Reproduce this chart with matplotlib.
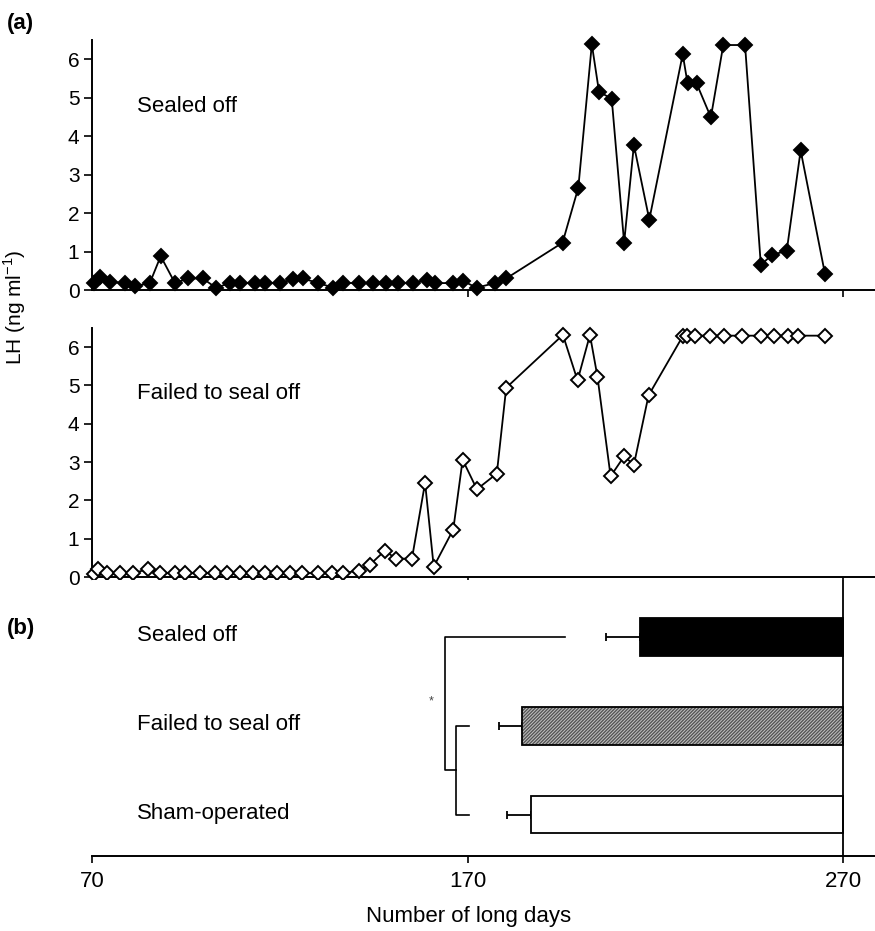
import matplotlib
matplotlib.use('Agg')
import matplotlib.pyplot as plt

plt.rcParams['font.family'] = ['Liberation Sans', 'DejaVu Sans']
plt.rcParams['mathtext.fontset'] = 'custom'
plt.rcParams['mathtext.rm'] = 'Liberation Sans'
plt.rcParams['axes.linewidth'] = 1.4

# (a) LH profiles
sealed_days = [70.6, 72.1, 74.8, 78.8, 81.5, 85.4, 88.3, 92.1, 95.6, 99.5,
               103.0, 106.8, 109.4, 113.4, 116.1, 120.1, 123.4, 126.1, 130.3, 134.3,
               136.9, 141.2, 144.8, 148.3, 151.5, 155.6, 159.1, 161.4, 166.2, 168.9,
               172.4, 177.3, 180.3, 195.3, 199.5, 203.1, 205.0, 208.4, 211.7, 214.3,
               218.4, 227.3, 228.6, 231.0, 234.8, 238.1, 243.9, 248.1, 251.0, 255.0,
               258.7, 265.2]
sealed_lh = [0.18, 0.34, 0.21, 0.18, 0.10, 0.18, 0.88, 0.18, 0.30, 0.30,
             0.06, 0.18, 0.18, 0.18, 0.18, 0.18, 0.28, 0.30, 0.18, 0.06,
             0.18, 0.18, 0.18, 0.18, 0.18, 0.18, 0.27, 0.18, 0.18, 0.23,
             0.06, 0.18, 0.30, 1.23, 2.66, 6.39, 5.16, 4.97, 1.23, 3.77,
             1.83, 6.13, 5.37, 5.37, 4.49, 6.37, 6.37, 0.65, 0.91, 1.02,
             3.63, 0.41]

failed_days = [70.6, 71.7, 73.9, 77.5, 81.0, 85.0, 88.1, 92.1, 94.8, 98.8,
               102.8, 105.9, 109.4, 113.0, 116.1, 119.2, 122.7, 125.8, 130.3, 133.8,
               136.9, 141.1, 144.0, 148.0, 150.9, 155.2, 158.7, 161.0, 166.2, 168.7,
               172.5, 177.8, 180.3, 195.4, 199.3, 202.6, 204.6, 208.1, 211.7, 214.3,
               218.2, 227.4, 228.4, 230.6, 234.6, 238.4, 243.0, 248.2, 251.7, 255.4,
               258.1, 265.2]
failed_lh = [0.08, 0.21, 0.10, 0.10, 0.10, 0.21, 0.10, 0.10, 0.10, 0.10,
             0.10, 0.10, 0.10, 0.10, 0.10, 0.10, 0.10, 0.10, 0.10, 0.10,
             0.10, 0.17, 0.32, 0.69, 0.48, 0.48, 2.46, 0.27, 1.24, 3.06,
             2.29, 2.70, 4.94, 6.32, 5.13, 6.32, 5.23, 2.63, 3.15, 2.93,
             4.74, 6.30, 6.30, 6.30, 6.30, 6.30, 6.30, 6.30, 6.30, 6.30,
             6.30, 6.30]

# (b) onset of LH rise (mean, SE) and end of observation
groups = ['Sealed off', 'Failed to seal off', 'Sham-operated']
onset_mean = [216, 184.5, 187]
onset_se = [9, 6, 6.5]
end_day = 270
bar_colors = ['black', '#c4c4c4', 'white']

fig = plt.figure(figsize=(8.75, 9.31), dpi=100)
ax1 = fig.add_axes([0.1051, 0.6885, 0.8949, 0.2685])
ax2 = fig.add_axes([0.1051, 0.3802, 0.8949, 0.2675])
ax3 = fig.add_axes([0.1051, 0.0809, 0.8949, 0.2960])

xmin, xmax = 70, 278.5

for ax, days, lh, face, label in [(ax1, sealed_days, sealed_lh, 'black', 'Sealed off'),
                                  (ax2, failed_days, failed_lh, 'white', 'Failed to seal off')]:
    ax.plot(days, lh, color='black', lw=1.3, marker='D', ms=6.8,
            mfc=face, mec='black', mew=1.4, clip_on=False, zorder=3)
    ax.set_xlim(xmin, xmax)
    ax.set_ylim(0, 6.5)
    ax.set_yticks(range(7))
    ax.set_xticks([170, 270])
    ax.set_xticklabels([])
    ax.spines['top'].set_visible(False)
    ax.spines['right'].set_visible(False)
    ax.tick_params(axis='y', direction='out', length=6, width=1.2, labelsize=15, pad=3)
    ax.tick_params(axis='x', direction='out', length=5, width=1.2)
    ax.text(82, 4.78, label, fontsize=16, va='center', ha='left')

ax2.tick_params(axis='x', length=10)

# (b) horizontal bars
pos = list(range(len(groups)))
for p, m, se, c in zip(pos, onset_mean, onset_se, bar_colors):
    if c == '#c4c4c4':
        ax3.barh(p, end_day - m, left=m, height=0.42, color=c, hatch='//////////',
                 edgecolor='#555555', linewidth=0, zorder=2)
        ax3.barh(p, end_day - m, left=m, height=0.42, fill=False,
                 edgecolor='black', linewidth=1.3, zorder=3)
    else:
        ax3.barh(p, end_day - m, left=m, height=0.42, color=c,
                 edgecolor='black', linewidth=1.3, zorder=2)
    ax3.errorbar([m], [p], xerr=[[se], [0]], fmt='none', ecolor='black',
                 elinewidth=1.3, capsize=3, capthick=1.3, zorder=1)
    ax3.text(82, p - 0.02, groups[p], fontsize=16, va='center', ha='left')

ax3.axvline(end_day, color='black', lw=1.3, zorder=4)

# significance brackets
j_outer, j_inner, arm_in, arm_out = 164.0, 166.9, 170.5, 196.0
mid = (pos[1] + pos[2]) / 2
ax3.plot([arm_out, j_outer, j_outer, j_inner], [pos[0], pos[0], mid, mid], color='black', lw=1.2)
ax3.plot([arm_in, j_inner, j_inner, arm_in], [pos[1], pos[1], pos[2], pos[2]], color='black', lw=1.2)
ax3.text(160.4, 0.72, '*', fontsize=9, ha='center', va='center', color='#444444')

ax3.set_xlim(xmin, xmax)
ax3.set_ylim(2.46, -0.64)
ax3.set_xticks([70, 170, 270])
ax3.set_yticks([])
for s in ['top', 'right', 'left']:
    ax3.spines[s].set_visible(False)
ax3.tick_params(axis='x', direction='out', length=5, width=1.2, labelsize=16, pad=6)

fig.text(0.536, 0.016, 'Number of long days', fontsize=16, ha='center', va='center')
fig.text(0.017, 0.67, r'LH (ng ml$^{\mathrm{-1}}$)', fontsize=15, rotation=90,
         ha='center', va='center')
fig.text(0.008, 0.975, '(a)', fontsize=16, fontweight='bold', ha='left', va='center')
fig.text(0.008, 0.325, '(b)', fontsize=16, fontweight='bold', ha='left', va='center')

fig.savefig('out.png', dpi=100)
